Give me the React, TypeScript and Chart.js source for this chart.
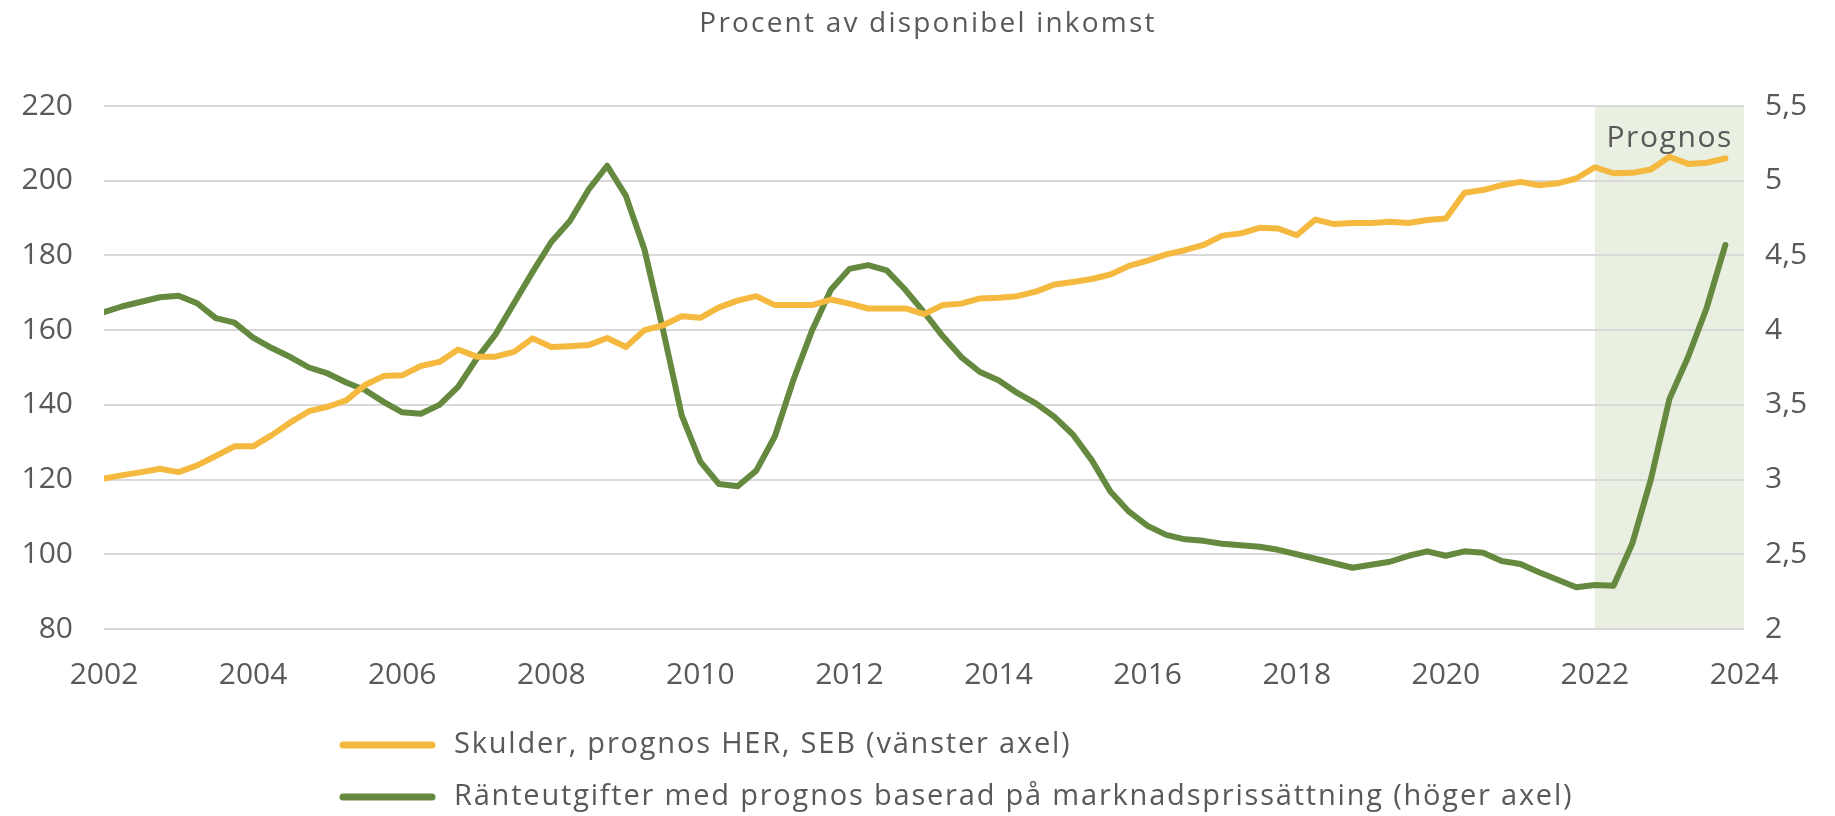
import React, { useEffect, useRef } from "react";
import { Chart, registerables } from "chart.js";

Chart.register(...registerables);

// ---- Data (quarterly, 2002 K1 – 2023 K4) ----
const years = [
  2002, 2003, 2004, 2005, 2006, 2007, 2008, 2009, 2010, 2011, 2012,
  2013, 2014, 2015, 2016, 2017, 2018, 2019, 2020, 2021, 2022, 2023,
];
const quarters = [1, 2, 3, 4];

// Skulder, procent av disponibel inkomst (vänster axel)
const skulder = [
  120.3, 121.2, 122.0, 122.9, 122.0, 123.8, 126.3, 128.9,
  128.9, 131.9, 135.3, 138.3, 139.5, 141.2, 145.3, 147.7,
  147.9, 150.4, 151.5, 154.8, 152.9, 152.9, 154.2, 157.8,
  155.5, 155.7, 156.0, 157.9, 155.5, 160.0, 161.3, 163.7,
  163.3, 166.1, 167.9, 169.1, 166.7, 166.7, 166.7, 168.2,
  167.1, 165.8, 165.8, 165.8, 164.3, 166.7, 167.1, 168.5,
  168.7, 169.1, 170.3, 172.2, 172.9, 173.7, 174.9, 177.2,
  178.6, 180.3, 181.4, 182.8, 185.3, 185.9, 187.4, 187.2,
  185.4, 189.6, 188.4, 188.7, 188.7, 189.0, 188.7, 189.5,
  189.9, 196.8, 197.5, 198.8, 199.7, 198.8, 199.3, 200.6,
  203.6, 202.0, 202.1, 203.0, 206.4, 204.5, 204.8, 206.0,
];

// Ränteutgifter, procent av disponibel inkomst (höger axel)
const ranteutgifter = [
  4.12, 4.16, 4.19, 4.22, 4.23, 4.18, 4.08, 4.05,
  3.95, 3.88, 3.82, 3.75, 3.71, 3.65, 3.6, 3.52,
  3.45, 3.44, 3.5, 3.62, 3.81, 3.97, 4.18, 4.39,
  4.59, 4.73, 4.94, 5.1, 4.9, 4.54, 4.0, 3.43,
  3.12, 2.97, 2.955, 3.06, 3.29, 3.67, 4.0, 4.27,
  4.41, 4.435, 4.4, 4.27, 4.12, 3.96, 3.82, 3.72,
  3.665, 3.58, 3.51, 3.42, 3.3, 3.13, 2.92, 2.785,
  2.69, 2.63, 2.6, 2.59, 2.57, 2.56, 2.55, 2.53,
  2.5, 2.47, 2.44, 2.41, 2.43, 2.45, 2.49, 2.52,
  2.49, 2.52, 2.51, 2.455, 2.435, 2.38, 2.33, 2.28,
  2.295, 2.29, 2.57, 3.0, 3.54, 3.82, 4.15, 4.57,
];

const leftTicks = [80, 100, 120, 140, 160, 180, 200, 220];
const rightTickLabels = ["2", "2,5", "3", "3,5", "4", "4,5", "5", "5,5"];
const xTickYears = [2002, 2004, 2006, 2008, 2010, 2012, 2014, 2016, 2018, 2020, 2022, 2024];

const forecastStart = 2022;
const forecastEnd = 2024;

const titleText = "Procent av disponibel inkomst";
const forecastText = "Prognos";
const seriesNames = [
  "Skulder, prognos HER, SEB (vänster axel)",
  "Ränteutgifter med prognos baserad på marknadsprissättning (höger axel)",
];

// ---- Styles ----
const FONT = "'Open Sans'";
const TEXT = "#595959";
const YELLOW = "#F5B940";
const GREEN = "#658A3F";
const SHADE = "#E9EFE1";
const GRID = "#D9D9D9";

const quarterX: number[] = [];
years.forEach((y) => quarters.forEach((q) => quarterX.push(y + (q - 1) / 4)));

const colors = [YELLOW, GREEN];

const decorPlugin = {
  id: "decor",
  beforeDraw(chart: any) {
    const { ctx, chartArea, scales } = chart;
    const x0 = scales.x.getPixelForValue(forecastStart);
    const x1 = scales.x.getPixelForValue(forecastEnd);
    ctx.save();
    ctx.fillStyle = SHADE;
    ctx.fillRect(x0, chartArea.top, x1 - x0, chartArea.bottom - chartArea.top);
    ctx.restore();
  },
  afterDraw(chart: any) {
    const { ctx, chartArea, scales } = chart;
    ctx.save();
    // Title
    ctx.fillStyle = TEXT;
    ctx.font = `28px ${FONT}`;
    ctx.letterSpacing = "2.2px";
    ctx.textAlign = "center";
    ctx.textBaseline = "middle";
    ctx.fillText(titleText, (chartArea.left + chartArea.right) / 2 + 4, 24);

    // Prognos label
    const x1 = scales.x.getPixelForValue(forecastEnd);
    ctx.font = `30px ${FONT}`;
    ctx.letterSpacing = "1.6px";
    ctx.textAlign = "right";
    ctx.fillText(forecastText, x1 - 11, chartArea.top + 32);

    // Legend
    const rowsY = [745, 797];
    seriesNames.forEach((name, i) => {
      const y = rowsY[i];
      ctx.strokeStyle = colors[i];
      ctx.lineWidth = 7;
      ctx.lineCap = "round";
      ctx.beginPath();
      ctx.moveTo(343, y);
      ctx.lineTo(432, y);
      ctx.stroke();
      ctx.fillStyle = TEXT;
      ctx.font = `29px ${FONT}`;
      ctx.letterSpacing = "1.8px";
      ctx.textAlign = "left";
      ctx.textBaseline = "middle";
      ctx.fillText(name, 454, y);
    });
    ctx.letterSpacing = "0px";
    ctx.restore();
  },
};

export default function App() {
  const canvasRef = useRef<HTMLCanvasElement | null>(null);

  useEffect(() => {
    if (!canvasRef.current) return;
    const tickFont = { family: FONT, size: 30 };
    const chart = new Chart(canvasRef.current, {
      type: "line",
      data: {
        datasets: [
          {
            label: seriesNames[0],
            data: skulder.map((v, i) => ({ x: quarterX[i], y: v })),
            yAxisID: "y",
            borderColor: YELLOW,
            backgroundColor: YELLOW,
            borderWidth: 6,
            pointRadius: 0,
            tension: 0,
            borderJoinStyle: "round",
            borderCapStyle: "round",
          },
          {
            label: seriesNames[1],
            data: ranteutgifter.map((v, i) => ({ x: quarterX[i], y: v })),
            yAxisID: "y1",
            borderColor: GREEN,
            backgroundColor: GREEN,
            borderWidth: 6,
            pointRadius: 0,
            tension: 0,
            borderJoinStyle: "round",
            borderCapStyle: "round",
          },
        ],
      },
      options: {
        animation: false,
        responsive: false,
        events: [],
        layout: { padding: { top: 106, bottom: 122, left: 0, right: 0 } },
        plugins: {
          legend: { display: false },
          title: { display: false },
          tooltip: { enabled: false },
        },
        scales: {
          x: {
            type: "linear",
            min: xTickYears[0],
            max: xTickYears[xTickYears.length - 1],
            grid: { display: false, drawTicks: false },
            border: { display: false },
            afterBuildTicks: (scale: any) => {
              scale.ticks = xTickYears.map((v) => ({ value: v }));
            },
            ticks: {
              font: tickFont,
              color: TEXT,
              padding: 28,
              maxRotation: 0,
              autoSkip: false,
              callback: (v: any) => String(v),
            },
            afterFit: (scale: any) => {
              scale.height = 65;
            },
          },
          y: {
            position: "left",
            min: leftTicks[0],
            max: leftTicks[leftTicks.length - 1],
            afterBuildTicks: (scale: any) => {
              scale.ticks = leftTicks.map((v) => ({ value: v }));
            },
            grid: { color: GRID, lineWidth: 2, drawTicks: false },
            border: { display: false },
            ticks: {
              font: tickFont,
              color: TEXT,
              padding: 31,
              callback: (v: any) => String(v),
            },
            afterFit: (scale: any) => {
              scale.width = 104;
            },
          },
          y1: {
            position: "right",
            min: 2,
            max: 5.5,
            afterBuildTicks: (scale: any) => {
              scale.ticks = rightTickLabels.map((_, i) => ({ value: 2 + i * 0.5 }));
            },
            grid: { display: false, drawTicks: false },
            border: { display: false },
            ticks: {
              font: tickFont,
              color: TEXT,
              padding: 21,
              callback: (_v: any, i: number) => rightTickLabels[i],
            },
            afterFit: (scale: any) => {
              scale.width = 91;
            },
          },
        },
      },
      plugins: [decorPlugin],
    } as any);
    return () => chart.destroy();
  }, []);

  return (
    <div style={{ position: "fixed", left: 0, top: 0, width: 1835, height: 816, background: "#fff" }}>
      <canvas ref={canvasRef} width={1835} height={816} style={{ display: "block" }} />
    </div>
  );
}
